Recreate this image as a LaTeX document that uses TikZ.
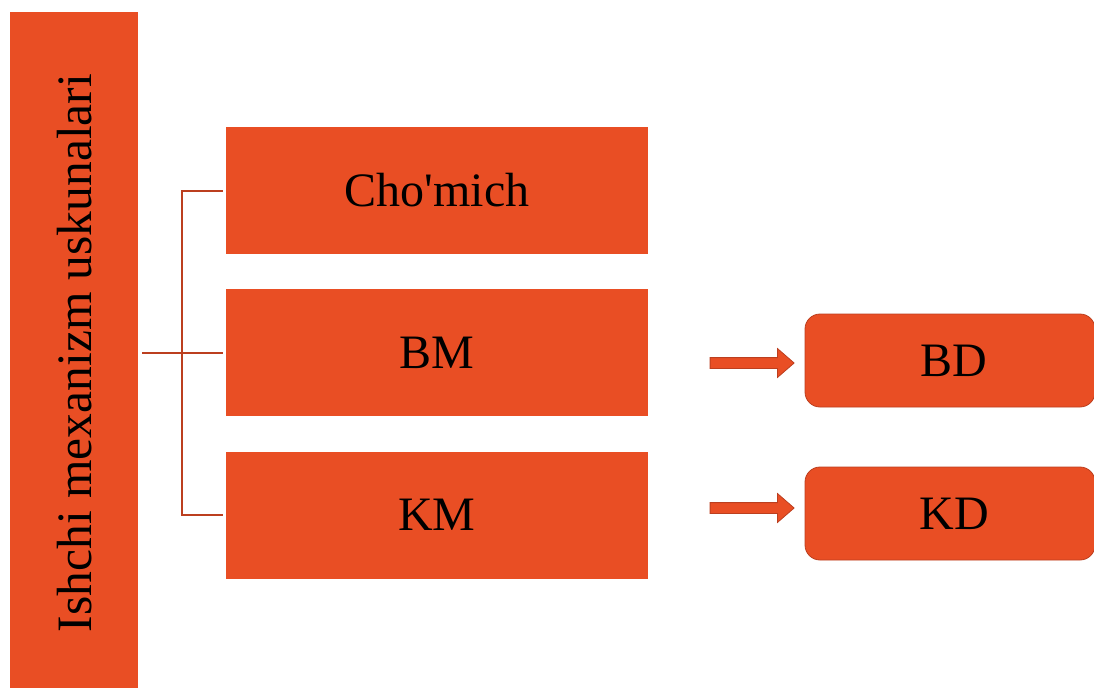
\documentclass[tikz,border=0pt]{standalone}
\usepackage{fontspec}
\setmainfont{Liberation Serif}
\usetikzlibrary{positioning,shapes.arrows}
\definecolor{Brick}{HTML}{E94E24}
\definecolor{Rust}{HTML}{BC3F1F}

\begin{document}
\begin{tikzpicture}[x=1pt,y=-1pt]
  \tikzset{
    label/.style={font=\fontsize{48}{50}\selectfont, text=black},
    sidebar/.style={fill=Brick, minimum width=128pt, minimum height=676pt, inner sep=0pt},
    toolbox/.style={label, fill=Brick, minimum width=422pt, minimum height=127pt, inner sep=0pt},
    partbox/.style={label, fill=Brick, draw=Rust, thick, rounded corners=15pt,
      minimum width=290pt, minimum height=93pt, inner sep=0pt},
    pointer/.style={single arrow, fill=Brick, draw=Rust, thick, inner xsep=0pt, inner ysep=5pt,
      minimum height=84pt, single arrow head extend=9pt, single arrow tip angle=82,
      single arrow head indent=0pt},
    link/.style={draw=Rust, line width=2pt}
  }
  \useasboundingbox (0,0) rectangle (1094,688);

  \node[sidebar] (bar) at (74,350) {};
  \node[label, font=\fontsize{49.5}{51}\selectfont, rotate=90] at ([xshift=1pt,yshift=-3pt]bar.center)
    {Ishchi mexanizm uskunalari};

  \node[toolbox] (chomich) at (437,190.5) {Cho\textquotesingle mich};
  \node[toolbox] (bm)      at (437,352.5) {BM};
  \node[toolbox] (km)      at (437,515)   {KM};

  \node[partbox] (bd) at (950,360.5) {\hspace*{8pt}BD};
  \node[partbox] (kd) at (950,513.5) {\hspace*{8pt}KD};

  \node[pointer] (tobd) at (749,363) {};
  \node[pointer] (tokd) at (749,508) {};

  % bracket
  \draw[link] ([xshift=-3pt]chomich.west) -- ++(-41,0) |- ([xshift=-3pt]km.west);
  \draw[link] ([xshift=4pt]bar.east |- bm.west) -- ([xshift=-3pt]bm.west);
\end{tikzpicture}
\end{document}
